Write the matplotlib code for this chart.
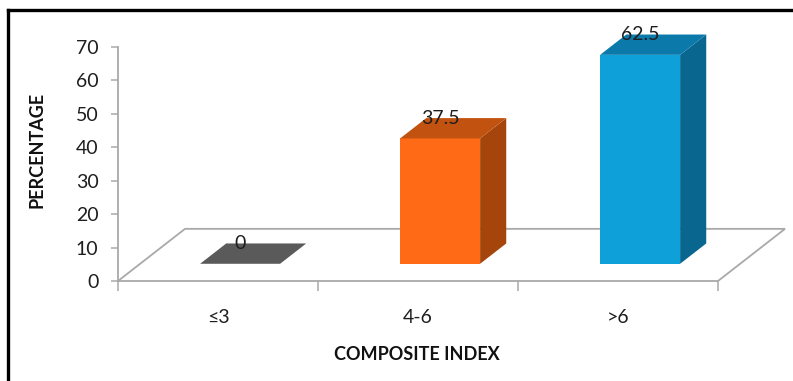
import matplotlib
matplotlib.use("Agg")
import matplotlib.pyplot as plt
from matplotlib.patches import Polygon
from matplotlib.lines import Line2D

plt.rcParams['font.family'] = ['Lato', 'DejaVu Sans']

categories = ["≤3", "4-6", ">6"]
values = [0, 37.5, 62.5]
value_labels = ["0", "37.5", "62.5"]
y_ticks = [0, 10, 20, 30, 40, 50, 60, 70]

front_colors = ["#5a5a5a", "#ff6a17", "#0ea0d9"]
top_colors = ["#5a5a5a", "#c2520f", "#0b7aab"]
side_colors = ["#4a4a4a", "#a5450c", "#08668f"]

W, H = 793, 381
fig = plt.figure(figsize=(W / 100, H / 100), dpi=100)

# pixel geometry of the plotting frame
px_left, px_base = 118, 281
px_per_cat, px_per_unit = 200, 3.343
xmin, xmax = -0.5, 2.85
ymin, ymax = 0, 78
ax_w = (xmax - xmin) * px_per_cat
ax_h = (ymax - ymin) * px_per_unit
ax = fig.add_axes([px_left / W, (H - px_base) / H, ax_w / W, ax_h / H])
ax.set_xlim(xmin, xmax)
ax.set_ylim(ymin, ymax)
ax.patch.set_visible(False)

# floor depth (in data units) and bar depth fractions
depth_x, depth_y = 0.335, 15.6
f0, f1 = 0.33, 0.72
fx, fy = depth_x * f0, depth_y * f0
bx, by = depth_x * f1, depth_y * f1
bar_w = 0.4

grid_c = "#a9a9a9"
txt_c = "#1e1e1e"
num_size = 14
n = len(categories)
x_lo, x_hi = -0.5, n - 0.5

# floor outline
floor = [(x_lo, 0), (x_hi, 0), (x_hi + depth_x, depth_y),
         (x_lo + depth_x, depth_y), (x_lo, 0)]
ax.plot([p[0] for p in floor], [p[1] for p in floor], color=grid_c,
        lw=1.3, zorder=1, clip_on=False, solid_joinstyle="miter")

# bars: front faces via ax.bar, top and side faces as polygons
xs = list(range(n))
ax.bar([x + fx for x in xs], values, width=bar_w, bottom=fy,
       color=front_colors, edgecolor="none", zorder=3)
for x, v, tc, sc in zip(xs, values, top_colors, side_colors):
    xl, xr = x - bar_w / 2, x + bar_w / 2
    top = [(xl + fx, fy + v), (xr + fx, fy + v), (xr + bx, by + v), (xl + bx, by + v)]
    side = [(xr + fx, fy), (xr + bx, by), (xr + bx, by + v), (xr + fx, fy + v)]
    if v > 0:
        ax.add_patch(Polygon(side, closed=True, facecolor=sc, edgecolor="none", zorder=3))
    ax.add_patch(Polygon(top, closed=True, facecolor=tc, edgecolor="none", zorder=3))

for x, v, lab in zip(xs, values, value_labels):
    ax.text(x + fx, v + by, lab, ha="center", va="center", fontsize=num_size,
            color=txt_c, zorder=5)

# axes styling
for s in ["top", "right", "bottom"]:
    ax.spines[s].set_visible(False)
ax.spines["left"].set_bounds(0, 70)
ax.spines["left"].set_color(grid_c)
ax.spines["left"].set_linewidth(1.3)
ax.set_yticks(y_ticks)
ax.set_yticklabels([str(t) for t in y_ticks])
ax.tick_params(axis="y", direction="out", length=5, width=1.1, color=grid_c,
               pad=9, labelsize=num_size, labelcolor=txt_c)

ax.set_xticks(xs)
ax.set_xticklabels(categories)
ax.set_xticks([x_lo + k for k in range(n + 1)], minor=True)
ax.tick_params(axis="x", which="major", length=0, pad=20, labelsize=num_size,
               labelcolor=txt_c)
ax.tick_params(axis="x", which="minor", direction="out", length=7, width=1.1,
               color=grid_c)

fig.text(417 / W, 1 - 355 / H, "COMPOSITE INDEX", ha="center", va="center",
         fontsize=13, fontweight="bold", color="#111111")
fig.text(37 / W, 1 - 150 / H, "PERCENTAGE", ha="center", va="center",
         rotation=90, fontsize=13, fontweight="bold", color="#111111")

# outer frame (left and top edges)
fig.add_artist(Line2D([7.5 / W, 7.5 / W], [0, 1 - 10 / H], color="black", lw=2.4,
                      transform=fig.transFigure, solid_capstyle="projecting"))
fig.add_artist(Line2D([7.5 / W, 1], [1 - 10 / H, 1 - 10 / H], color="black", lw=2.4,
                      transform=fig.transFigure, solid_capstyle="projecting"))

fig.savefig("out.png", dpi=100)
